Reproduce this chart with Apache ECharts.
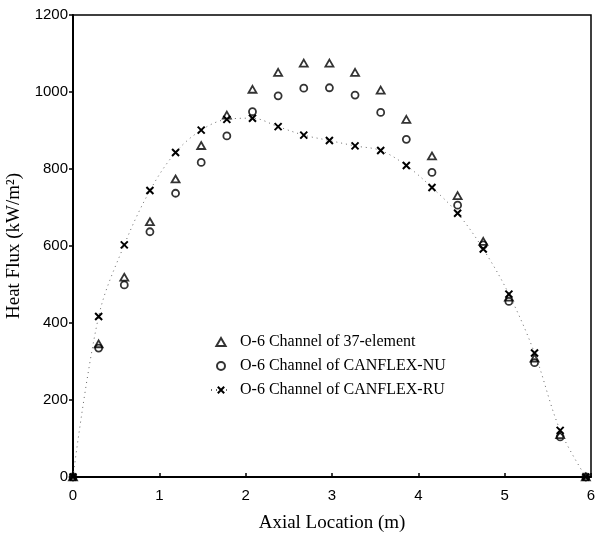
<!DOCTYPE html>
<html><head><meta charset="utf-8">
<script src="https://cdn.jsdelivr.net/npm/echarts@6/dist/echarts.min.js"></script>
<style>html,body{margin:0;padding:0;background:#fff}#c{width:596px;height:534px}</style>
</head><body><div id="c"></div>
<script>
// Axial positions (m)
const axialLocation = [0, 0.297, 0.594, 0.891, 1.188, 1.485, 1.782, 2.079, 2.376, 2.673, 2.970, 3.267, 3.564, 3.861, 4.158, 4.455, 4.752, 5.049, 5.346, 5.643, 5.94];
// Heat flux (kW/m2)
const flux37 = [0, 346, 519, 663, 774, 861, 940, 1007, 1051, 1075, 1075, 1051, 1005, 929, 834, 731, 612, 467, 309, 110, 0];
const fluxNU = [0, 335, 499, 637, 737, 817, 886, 949, 990, 1010, 1011, 992, 947, 877, 791, 706, 603, 456, 297, 104, 0];
const fluxRU = [0, 417, 603, 744, 843, 901, 929, 932, 910, 888, 874, 860, 848, 809, 752, 685, 592, 475, 322, 121, 0];
const seriesNames = ['O-6 Channel of 37-element', 'O-6 Channel of CANFLEX-NU', 'O-6 Channel of CANFLEX-RU'];
const yTicks = [0, 200, 400, 600, 800, 1000, 1200];
const xTicks = [0, 1, 2, 3, 4, 5, 6];

const pairs = arr => axialLocation.map((x, i) => [x, arr[i]]);
const hollow = {color: 'rgba(0,0,0,0)', borderColor: '#000', borderWidth: 1.8};
const serif = '"Liberation Serif","Times New Roman",serif';
const sans = '"Liberation Sans",Arial,sans-serif';
const triPath = 'path://M5,0L10,8.66L0,8.66Z';
const crossPath = 'path://M0,0L10,10M10,0L0,10';

const chart = echarts.init(document.getElementById('c'), null, {renderer: 'canvas'});
chart.setOption({
  animation: false,
  backgroundColor: '#fff',
  grid: {left: 73, right: 5, top: 15, bottom: 57, show: true, borderColor: '#000', borderWidth: 1.5,
         containLabel: false, outerBoundsMode: 'none'},
  legend: {
    orient: 'vertical', left: 205, top: 329, itemWidth: 20, itemHeight: 8, itemGap: 8,
    symbolKeepAspect: true,
    data: [
      {name: seriesNames[0], icon: triPath},
      {name: seriesNames[1]},
      {name: seriesNames[2]}
    ],
    textStyle: {fontFamily: serif, fontSize: 16, color: '#000', padding: [0, 0, 0, 4]}
  },
  xAxis: {
    type: 'value', min: xTicks[0], max: xTicks[xTicks.length - 1], interval: 1,
    name: 'Axial Location (m)', nameLocation: 'middle', nameGap: 37,
    nameTextStyle: {fontFamily: serif, fontSize: 19, color: '#000'},
    axisLine: {show: true, lineStyle: {color: '#000', width: 2}},
    axisTick: {show: true, inside: true, length: 4, lineStyle: {color: '#000', width: 1.5}},
    axisLabel: {fontFamily: sans, fontSize: 15, color: '#000', margin: 11},
    splitLine: {show: false}
  },
  yAxis: {
    type: 'value', min: yTicks[0], max: yTicks[yTicks.length - 1], interval: 200,
    name: 'Heat Flux (kW/m²)', nameLocation: 'middle', nameGap: 45,
    nameTextStyle: {fontFamily: serif, fontSize: 19, color: '#000'},
    axisLine: {show: true, lineStyle: {color: '#000', width: 2}},
    axisTick: {show: true, inside: false, length: 4, lineStyle: {color: '#000', width: 1.5}},
    axisLabel: {fontFamily: sans, fontSize: 15, color: '#000', margin: 5, formatter: v => String(v)},
    splitLine: {show: false}
  },
  series: [
    {name: seriesNames[0], type: 'scatter', data: pairs(flux37), symbol: triPath, symbolKeepAspect: true, symbolSize: 8, itemStyle: hollow, z: 3},
    {name: seriesNames[1], type: 'scatter', data: pairs(fluxNU), symbol: 'circle', symbolSize: 7, itemStyle: hollow, z: 3},
    {name: seriesNames[2], type: 'line', data: pairs(fluxRU), smooth: 0.35,
     symbol: crossPath, symbolSize: 7, showSymbol: true,
     itemStyle: {color: 'rgba(0,0,0,0)', borderColor: '#000', borderWidth: 2},
     lineStyle: {color: '#666', width: 1, type: [1, 4]}, z: 4}
  ]
});
</script></body></html>
